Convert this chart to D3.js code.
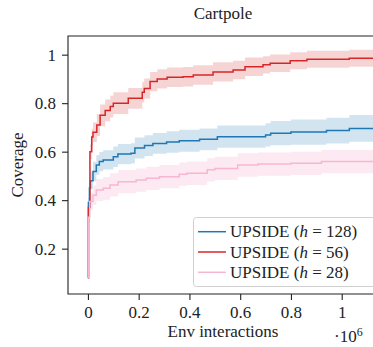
<!DOCTYPE html>
<html><head><meta charset="utf-8">
<script src="https://cdn.jsdelivr.net/npm/d3@7"></script>
<style>
html,body{margin:0;padding:0;background:#fff;}
svg{display:block;}
text{font-family:"Liberation Serif","DejaVu Serif",serif;fill:#222;}
</style></head>
<body>
<script>
// Data (x in units of 1e6 env interactions)
const seriesNames = ["UPSIDE (h = 128)", "UPSIDE (h = 56)", "UPSIDE (h = 28)"];
const hValues = ["128", "56", "28"];
const colors = ["#1f77b4", "#d62728", "#f7b6d2"];

const blueX    = [0, 0.002, 0.006, 0.01, 0.02, 0.033, 0.045, 0.06, 0.1, 0.118, 0.17, 0.185, 0.223, 0.256, 0.31, 0.36, 0.44, 0.51, 0.7, 0.72, 0.8, 0.94, 1.03, 1.2];
const blueMean = [0.08, 0.39, 0.45, 0.48, 0.518, 0.545, 0.559, 0.566, 0.579, 0.59, 0.593, 0.615, 0.625, 0.634, 0.64, 0.645, 0.651, 0.662, 0.669, 0.676, 0.681, 0.687, 0.696, 0.70];
const blueSpread = [0, 0.02, 0.03, 0.035, 0.04, 0.04, 0.04, 0.04, 0.042, 0.042, 0.042, 0.043, 0.043, 0.043, 0.044, 0.045, 0.045, 0.046, 0.048, 0.05, 0.052, 0.053, 0.055, 0.055];

const redX    = [0, 0.002, 0.008, 0.015, 0.02, 0.035, 0.048, 0.068, 0.088, 0.10, 0.159, 0.214, 0.222, 0.245, 0.273, 0.312, 0.375, 0.415, 0.493, 0.572, 0.619, 0.69, 0.718, 0.797, 0.863, 1.03, 1.2];
const redMean = [0.08, 0.37, 0.60, 0.66, 0.68, 0.71, 0.75, 0.77, 0.786, 0.80, 0.82, 0.845, 0.86, 0.889, 0.90, 0.907, 0.909, 0.916, 0.929, 0.937, 0.95, 0.958, 0.965, 0.975, 0.981, 0.985, 0.985];
const redSpread = [0, 0.02, 0.03, 0.035, 0.04, 0.045, 0.045, 0.045, 0.045, 0.045, 0.043, 0.042, 0.042, 0.04, 0.04, 0.04, 0.04, 0.04, 0.04, 0.038, 0.038, 0.036, 0.036, 0.035, 0.035, 0.035, 0.035];

const pinkX    = [0, 0.002, 0.007, 0.02, 0.033, 0.06, 0.087, 0.119, 0.19, 0.23, 0.282, 0.36, 0.39, 0.47, 0.5, 0.59, 0.67, 0.8, 0.92, 1.2];
const pinkMean = [0.08, 0.33, 0.394, 0.42, 0.442, 0.449, 0.463, 0.476, 0.483, 0.49, 0.497, 0.507, 0.511, 0.525, 0.531, 0.545, 0.549, 0.552, 0.559, 0.56];
const pinkSpread = [0, 0.02, 0.035, 0.04, 0.045, 0.047, 0.048, 0.048, 0.048, 0.048, 0.048, 0.048, 0.048, 0.048, 0.048, 0.048, 0.048, 0.048, 0.048, 0.048];

const xTicks = [0, 0.2, 0.4, 0.6, 0.8, 1];
const yTicks = [0.2, 0.4, 0.6, 0.8, 1];

const W = 373, H = 347;
const L = 68, R = 378, T = 36, B = 294;

const svg = d3.select("body").append("svg").attr("width", W).attr("height", H);

const x = d3.scaleLinear().domain([-0.0785, 1.143]).range([L, R]);
const y = d3.scaleLinear().domain([0.013, 1.077]).range([B, T]);

svg.append("defs").append("clipPath").attr("id", "clip")
  .append("rect").attr("x", L).attr("y", T).attr("width", R - L).attr("height", B - T);

const series = [
  {xs: blueX, m: blueMean, s: blueSpread, c: colors[0], op: 0.2},
  {xs: redX, m: redMean, s: redSpread, c: colors[1], op: 0.2},
  {xs: pinkX, m: pinkMean, s: pinkSpread, c: colors[2], op: 0.3}
];

const g = svg.append("g").attr("clip-path", "url(#clip)");
series.forEach(sr => {
  const pts = sr.xs.map((xv, i) => ({x: xv, m: sr.m[i], s: sr.s[i]}));
  const area = d3.area().curve(d3.curveStepAfter)
    .x(d => x(d.x)).y0(d => y(d.m - d.s)).y1(d => y(d.m + d.s));
  g.append("path").datum(pts).attr("d", area).attr("fill", sr.c).attr("fill-opacity", sr.op);
});
series.forEach(sr => {
  const pts = sr.xs.map((xv, i) => ({x: xv, m: sr.m[i]}));
  const line = d3.line().curve(d3.curveStepAfter).x(d => x(d.x)).y(d => y(d.m));
  g.append("path").datum(pts).attr("d", line).attr("fill", "none")
    .attr("stroke", sr.c).attr("stroke-width", 1.5);
});

// axes
const fmt = d3.format("~g");
const xa = svg.append("g").attr("transform", `translate(0,${B})`)
  .call(d3.axisBottom(x).tickValues(xTicks).tickFormat(fmt).tickSize(6).tickPadding(6));
const ya = svg.append("g").attr("transform", `translate(${L},0)`)
  .call(d3.axisLeft(y).tickValues(yTicks).tickFormat(fmt).tickSize(6).tickPadding(6));
[xa, ya].forEach(a => {
  a.select(".domain").remove();
  a.selectAll(".tick line").attr("stroke", "#222").attr("stroke-width", 1.1);
  a.selectAll(".tick text").style("font-family", '"Liberation Serif",serif').style("font-size", "17px").attr("fill", "#222");
});

// spines
svg.append("path").attr("d", `M${L},${T}H${R}V${B}H${L}Z`).attr("fill", "none")
  .attr("stroke", "#222").attr("stroke-width", 1.1);

// title & labels
svg.append("text").attr("x", 223).attr("y", 18.5).attr("text-anchor", "middle")
  .style("font-size", "17px").text("Cartpole");
svg.append("text").attr("x", 223).attr("y", 337).attr("text-anchor", "middle")
  .style("font-size", "17px").text("Env interactions");
svg.append("text").attr("transform", `translate(23,${(T + B) / 2}) rotate(-90)`)
  .attr("text-anchor", "middle").style("font-size", "17px").text("Coverage");
const ex = svg.append("text").attr("x", 334).attr("y", 342).style("font-size", "17px");
ex.append("tspan").text("·10");
ex.append("tspan").attr("dy", -6).style("font-size", "12px").text("6");

// legend
const lg = svg.append("g");
lg.append("rect").attr("x", 193.5).attr("y", 217.5).attr("width", 200).attr("height", 69)
  .attr("rx", 3).attr("fill", "#fff").attr("fill-opacity", 0.8)
  .attr("stroke", "#d0d0d0").attr("stroke-width", 1);
seriesNames.forEach((name, i) => {
  const cy = 231.7 + i * 20.3;
  lg.append("line").attr("x1", 198).attr("x2", 226).attr("y1", cy).attr("y2", cy)
    .attr("stroke", colors[i]).attr("stroke-width", 1.5);
  const t = lg.append("text").attr("x", 230).attr("y", cy + 5.5).style("font-size", "17px");
  t.append("tspan").text("UPSIDE (");
  t.append("tspan").style("font-style", "italic").text("h");
  t.append("tspan").text(" = " + hValues[i] + ")");
});
</script>
</body></html>
